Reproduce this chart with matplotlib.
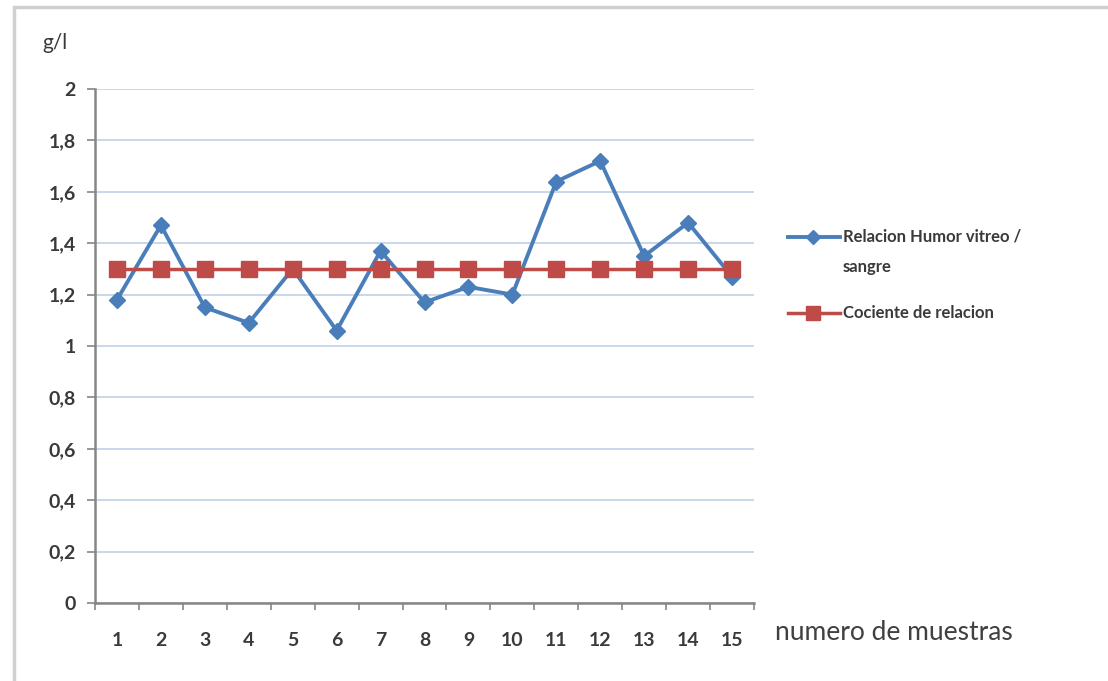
import matplotlib
matplotlib.use("Agg")
import matplotlib.pyplot as plt
from matplotlib.patches import Rectangle
from matplotlib.lines import Line2D
from matplotlib.ticker import FixedLocator, FuncFormatter

# muestras y valores (g/l)
muestras = list(range(1, 16))
humor_sangre = [1.18, 1.47, 1.15, 1.09, 1.30, 1.06, 1.37, 1.17, 1.23, 1.20,
                1.64, 1.72, 1.35, 1.48, 1.27]
cociente = [1.30] * 15
y_ticks = [0, 0.2, 0.4, 0.6, 0.8, 1.0, 1.2, 1.4, 1.6, 1.8, 2.0]

azul = '#4A7EBB'
rojo = '#BE4B48'
texto = '#3a3a3a'

plt.rcParams['font.family'] = ['Lato', 'DejaVu Sans']

fig = plt.figure(figsize=(11.08, 6.81), dpi=100)
W, H = 1108, 681
ax = fig.add_axes([95 / W, 1 - 603 / H, 659 / W, 514 / H])

ax.plot(muestras, humor_sangre, color=azul, lw=2.8, marker='D', ms=8, zorder=3)
ax.plot(muestras, cociente, color=rojo, lw=2.5, marker='s', ms=11.5, zorder=4)

ax.set_xlim(0.5, 15.5)
ax.set_ylim(0, 2)

# eje y con coma decimal
ax.yaxis.set_major_locator(FixedLocator(y_ticks))
ax.yaxis.set_major_formatter(FuncFormatter(lambda v, p: ('%g' % v).replace('.', ',')))
ax.grid(axis='y', color='#B9CDE5', lw=1.1)
ax.set_axisbelow(True)

# eje x: marcas entre categorias, etiquetas al centro
ax.set_xticks(muestras)
ax.set_xticks([m + 0.5 for m in range(0, 16)], minor=True)
ax.tick_params(axis='x', which='major', length=0, pad=21)
ax.tick_params(axis='x', which='minor', length=5, width=1.2, color='#868686')
ax.tick_params(axis='y', length=6, width=1.2, color='#868686', pad=8)
for lab in ax.get_xticklabels() + ax.get_yticklabels():
    lab.set_fontsize(14)
    lab.set_fontweight('bold')
    lab.set_color(texto)

for s in ['top', 'right']:
    ax.spines[s].set_visible(False)
for s in ['left', 'bottom']:
    ax.spines[s].set_color('#868686')
    ax.spines[s].set_linewidth(1.8)

fig.text(42 / W, 1 - 43 / H, 'g/l', fontsize=15, color=texto, va='center')
fig.text(775 / W, 1 - 632 / H, 'numero de muestras', fontsize=19,
         color='#404040', va='center')

# leyenda a mano: linea con marcador y texto a la derecha
entradas = [
    (237, azul, 'D', 8, 2.8, ['Relacion Humor vitreo /', 'sangre']),
    (313, rojo, 's', 11.5, 2.5, ['Cociente de relacion']),
]
for yy, col, mk, ms, lw, lineas in entradas:
    y0 = 1 - yy / H
    fig.add_artist(Line2D([788 / W, 840 / W], [y0, y0], transform=fig.transFigure,
                          color=col, lw=lw))
    fig.add_artist(Line2D([813 / W], [y0], transform=fig.transFigure,
                          color=col, marker=mk, ms=ms * 0.85, lw=0))
    for i, linea in enumerate(lineas):
        fig.text(843 / W, 1 - (yy + 30 * i) / H, linea, fontsize=12,
                 fontweight='bold', color=texto, va='center')

# marco del grafico
fig.add_artist(Rectangle((14 / W, -0.1), 1.2, 1 - 7 / H + 0.1,
                         transform=fig.transFigure, fill=False,
                         edgecolor='#cfcfcf', lw=2.5))

fig.savefig('out.png', dpi=100)
